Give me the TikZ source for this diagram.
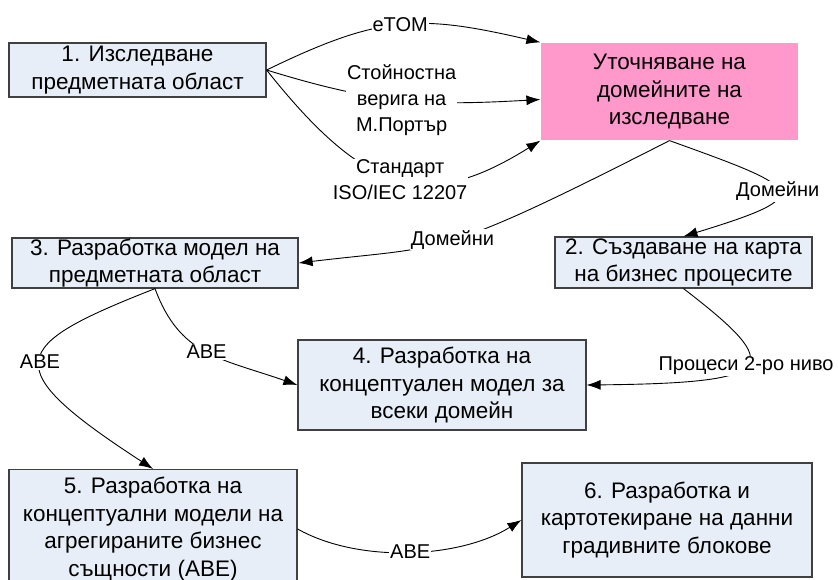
\documentclass[tikz,border=0pt]{standalone}
\usepackage{fontspec}
\setmainfont{Liberation Sans}
\usetikzlibrary{shapes,arrows.meta}
\usetikzlibrary{positioning}
\definecolor{boxblue}{RGB}{232,238,247}
\definecolor{boxedge}{RGB}{64,64,64}
\definecolor{domainpink}{RGB}{255,153,204}
\tikzstyle{block} = [rectangle, draw=boxedge, line width=1.2pt, fill=boxblue, align=center, inner sep=0pt, font=\fontsize{22.5}{27.5}\selectfont]
\tikzstyle{focus} = [block, draw=none, fill=domainpink]
\tikzstyle{line} = [draw, line width=0.9pt, -{Latex[length=14pt,width=10pt]}]
\tikzstyle{tag} = [fill=white, inner sep=1pt, align=center, font=\fontsize{20}{26}\selectfont]

\begin{document}
\begin{tikzpicture}[x=1pt, y=-1pt]
    \useasboundingbox (0,0) rectangle (838,579);
    \clip (0,0) rectangle (838,579);
    % Place nodes
    \node [block, minimum width=257pt, minimum height=54pt] (research) at (137.5,70) {1. Изследване\\предметната област};
    \node [focus, minimum width=257pt, minimum height=97pt] (domains) at (669.5,91.5) {Уточняване на\\домейните на\\изследване};
    \node [block, minimum width=257pt, minimum height=51pt] (bpmap) at (683.5,262.5) {2. Създаване на карта\\на бизнес процесите};
    \node [block, minimum width=286pt, minimum height=50pt] (dmodel) at (155,263) {3. Разработка модел на\\предметната област};
    \node [block, minimum width=288pt, minimum height=90pt] (concept) at (442,385) {4. Разработка на\\концептуален модел за\\всеки домейн};
    \node [block, minimum width=288pt, minimum height=119pt] (aggregate) at (153,529) {5. Разработка на\\концептуални модели на\\агрегираните бизнес\\същности (ABE)};
    \node [block, minimum width=290pt, minimum height=114pt] (blocks) at (667,520) {6. Разработка и\\картотекиране на данни\\градивните блокове};

    % Draw edges
    \path [line] (research.east) .. controls (380,15) and (418,14) .. node[tag] {eTOM} (domains.north west);
    \path [line] (research.east) .. controls (377,104) and (425,106) .. node[tag] {Стойностна\\верига на\\М.Портър} ([yshift=-8pt]domains.west);
    \path [line] (research.east) .. controls (369,199) and (429,210) .. node[tag] {Стандарт\\ISO/IEC 12207} (domains.south west);
    \path [line] (domains.south) .. controls (804,189) and (819,195) .. node[tag] {Домейни} (bpmap.north);
    \path [line] (domains.south) .. controls (435,260) and (449,245) .. node[tag] {Домейни} (dmodel.east);
    \path [line] (bpmap.south) .. controls (787,368) and (779,383) .. node[tag] {Процеси 2-ро ниво} (concept.east);
    \path [line] (dmodel.south) .. controls (180,356) and (220,358) .. node[tag] {ABE} (concept.west);
    \path [line] (dmodel.south) .. controls (9,346) and (-5,366) .. node[tag] {ABE} (aggregate.north);
    \path [line] (aggregate.east) .. controls (360,564) and (461,558) .. node[tag] {ABE} (blocks.west);

\end{tikzpicture}
\end{document}
